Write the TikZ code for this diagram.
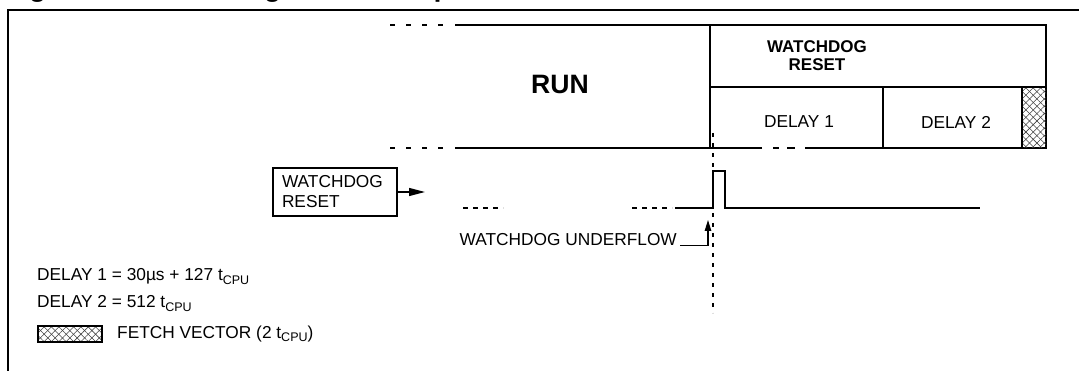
\documentclass[tikz,border=0pt]{standalone}
\usepackage{fontspec}
\setmainfont{Liberation Sans}
\usetikzlibrary{patterns.meta,arrows.meta}
\newcommand\cpusub{\raisebox{-0.35ex}{\fontsize{12.5}{12.5}\selectfont CPU}}
\tikzset{
  frameline/.style={line width=1.4pt},
  bandline/.style={line width=1.3pt},
  sigline/.style={line width=1.3pt},
  txt/.style={font=\fontsize{17.3}{20}\selectfont, inner sep=0pt},
  hatchA/.style={pattern={Lines[angle=45,distance=5.2pt,line width=0.55pt]}, pattern color=black!75},
  hatchB/.style={pattern={Lines[angle=-45,distance=5.2pt,line width=0.55pt]}, pattern color=black!75},
}
\begin{document}
\begin{tikzpicture}[x=1pt,y=-1pt]
\useasboundingbox (0,0) rectangle (1079,371);
\clip (0,0) rectangle (1079,371);
% title (mostly cut off)
\node[anchor=base west, font=\bfseries\fontsize{28}{30}\selectfont, inner sep=0pt] (title) at (4,-3) {Figure 35. Watchdog RESET Sequence};
% frame
\draw[frameline] (8,390) -- (8,10) -- (1090,10);
% band
\draw[bandline] (455,25) -- (1046,25) -- (1046,148) -- (805,148);
\draw[bandline] (762,148) -- (455,148);
\draw[bandline] (773,148) -- (779,148);
\draw[bandline] (787,148) -- (795,148);
\draw[bandline, dash pattern=on 5pt off 11pt] (390,25) -- (446,25);
\draw[bandline, dash pattern=on 5pt off 11pt] (390,148) -- (446,148);
\path[hatchA] (1022,87) rectangle (1046,148);
\path[hatchB] (1022,87) rectangle (1046,148);
\draw[bandline] (710,25) -- (710,148);
\draw[bandline] (710,87) -- (1046,87);
\draw[bandline] (883,87) -- (883,148);
\draw[bandline] (1022,87) -- (1022,148);
\node[font=\bfseries\fontsize{26.6}{30}\selectfont, inner sep=0pt] (run) at (560,84) {RUN};
\node[font=\bfseries\fontsize{17}{18}\selectfont, inner sep=0pt, align=center] (wdhead) at (817,56) {WATCHDOG\\RESET};
\node[txt] (d1lab) at (799,122) {DELAY 1};
\node[txt] (d2lab) at (956,122) {DELAY 2};
% signal
\draw[sigline, dash pattern=on 5pt off 5pt] (463,208) -- (503,208);
\draw[sigline, dash pattern=on 5pt off 5pt] (632,208) -- (672,208);
\draw[sigline] (675,208) -- (713,208) -- (713,171) -- (725,171) -- (725,208) -- (980,208);
\draw[line width=1.4pt, dash pattern=on 4pt off 6pt] (713,133) -- (713,313);
% watchdog reset box
\node[draw, line width=1.3pt, txt, minimum width=124pt, minimum height=48pt, text width=106pt, inner xsep=9pt, align=left] (wdr) at (335,192) {WATCHDOG\\RESET};
\coordinate (wdrtip) at (425,192);
\draw[sigline, -{Triangle[length=16pt,width=8pt]}] (wdr.east) -- (wdrtip);
% underflow
\node[txt, anchor=east] (uf) at (677,240) {WATCHDOG UNDERFLOW};
\coordinate (uftip) at (708,220);
\draw[sigline, -{Triangle[length=11pt,width=6.5pt]}] ([xshift=3pt,yshift=1pt]uf.south east) -| (uftip);
% legend
\node[txt, anchor=base west] (leg1) at (37,281) {DELAY 1 = 30µs + 127 t\cpusub};
\node[txt, anchor=base west] (leg2) at (37,308) {DELAY 2 = 512 t\cpusub};
\path[hatchA] (38,326) rectangle (102,342);
\path[hatchB] (38,326) rectangle (102,342);
\draw[line width=1.3pt] (38,326) rectangle (102,342);
\node[txt, anchor=base west] (leg3) at (117,338) {FETCH VECTOR (2 t\cpusub)};
\end{tikzpicture}
\end{document}
